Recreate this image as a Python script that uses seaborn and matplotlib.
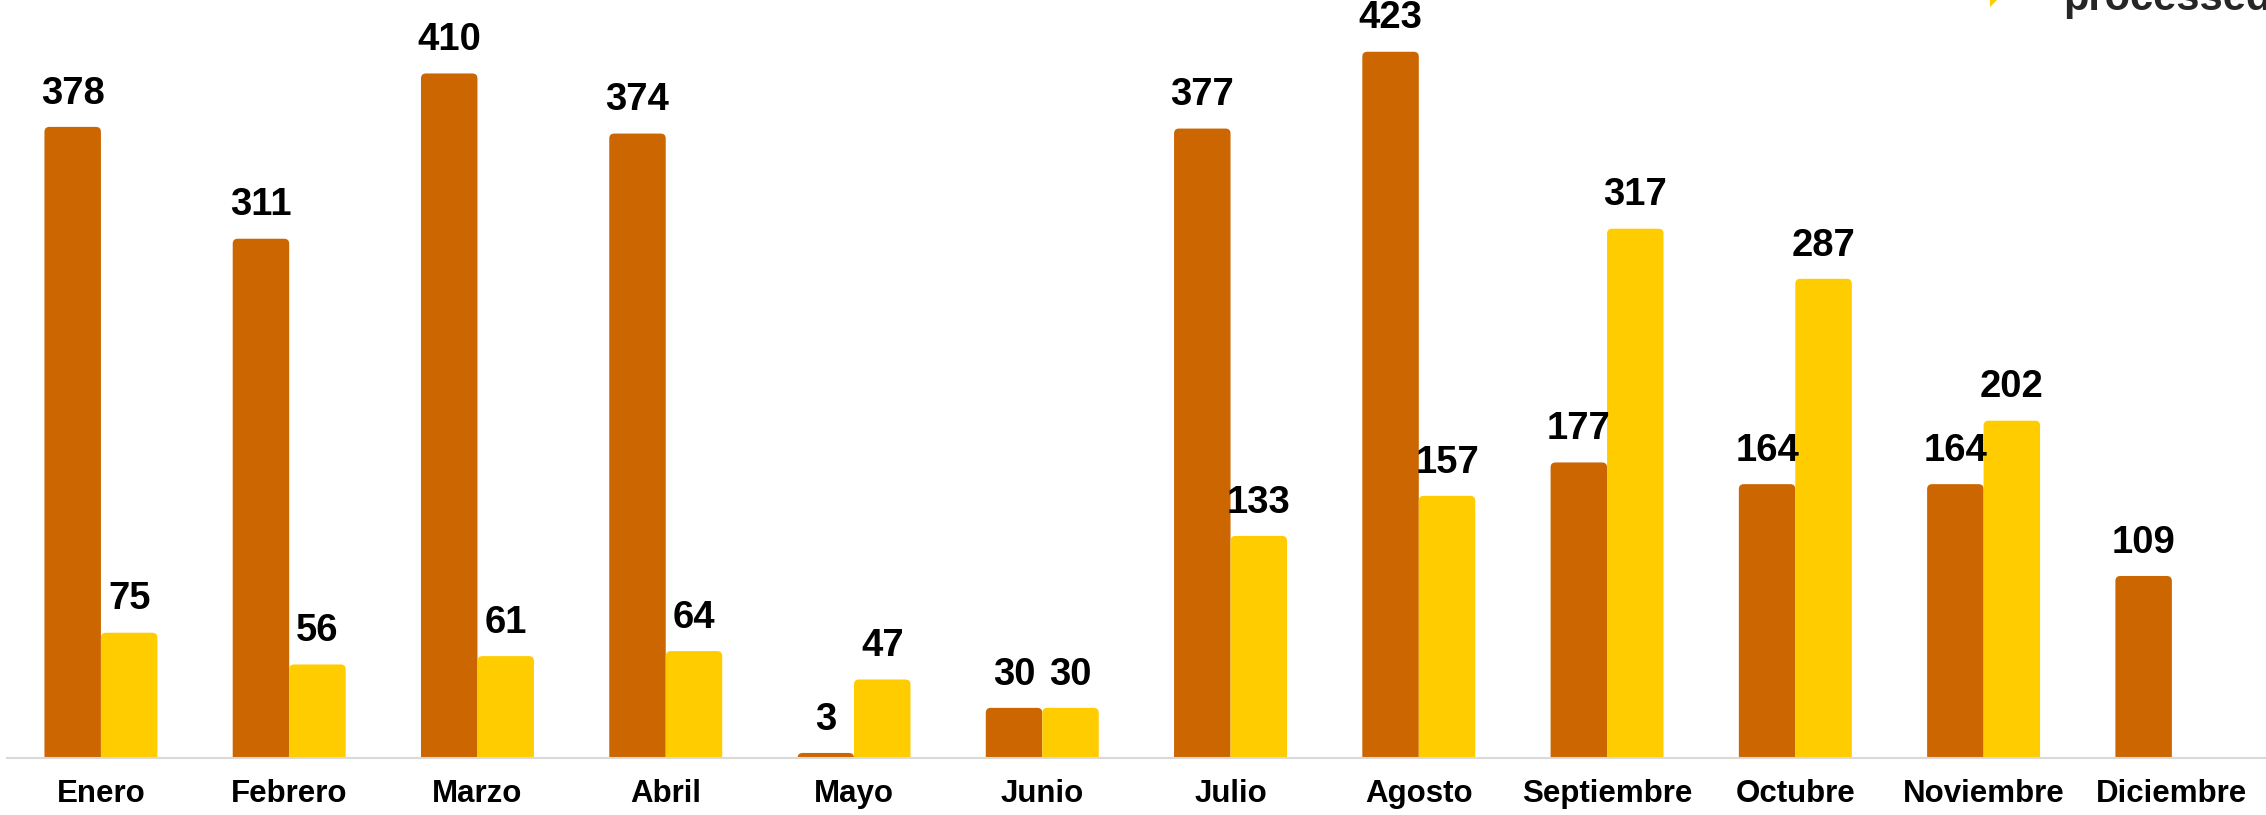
import numpy as np
import pandas as pd
import matplotlib
matplotlib.use("Agg")
import matplotlib.pyplot as plt
import seaborn as sns
from matplotlib.patches import FancyBboxPatch, Polygon

sns.set_theme(style="white")
plt.rcParams["font.family"] = ["Liberation Sans", "DejaVu Sans"]

# data
months = ["Enero", "Febrero", "Marzo", "Abril", "Mayo", "Junio", "Julio",
          "Agosto", "Septiembre", "Octubre", "Noviembre", "Diciembre"]
serie_a = [378, 311, 410, 374, 3, 30, 377, 423, 177, 164, 164, 109]
serie_b = [75, 56, 61, 64, 47, 30, 133, 157, 317, 287, 202, np.nan]
series = ["A", "B"]
colors = ["#CC6600", "#FFCC00"]

df = pd.DataFrame({
    "mes": months * 2,
    "serie": [series[0]] * 12 + [series[1]] * 12,
    "valor": serie_a + serie_b,
})

fig = plt.figure(figsize=(22.66, 8.15), dpi=100)
ax = fig.add_axes([0.003, 0.07, 0.997, 0.93])

sns.barplot(data=df, x="mes", y="valor", hue="serie", order=months,
            hue_order=series, palette=colors, width=0.6, dodge=True,
            saturation=1, legend=False, ax=ax)

ax.set_xlim(-0.5, 11.5)
ax.set_ylim(0, 454)

for c in ax.containers:
    ax.bar_label(c, fmt="%.0f", padding=11, fontsize=27.5, fontweight="bold",
                 color="black")

# swap plain bars for bars with rounded tops
xpp = 12 / (2266 * 0.997)
ypp = 454 / (815 * 0.93)
r = 5 * xpp
for p in list(ax.patches):
    x, w, h = p.get_x(), p.get_width(), p.get_height()
    if np.isnan(h):
        p.remove()
        continue
    fc = p.get_facecolor()
    p.remove()
    box = FancyBboxPatch((x, -8 * ypp), w, h + 8 * ypp,
                         boxstyle=f"round,pad=0,rounding_size={r}",
                         mutation_aspect=ypp / xpp, facecolor=fc,
                         edgecolor="none", zorder=2)
    ax.add_patch(box)

ax.set_xlabel("")
ax.set_ylabel("")
ax.set_yticks([])
ax.tick_params(axis="x", length=0, pad=15, labelsize=22.5)
for t in ax.get_xticklabels():
    t.set_fontweight("bold")
    t.set_color("black")
for s in ["top", "left", "right"]:
    ax.spines[s].set_visible(False)
ax.spines["bottom"].set_color("#D9D9D9")
ax.spines["bottom"].set_linewidth(1.5)
ax.spines["bottom"].set_zorder(3)

# cropped logo in the top right corner
fig.text(2063 / 2266, 1 - 10 / 815, "processed", fontsize=30,
         fontweight="bold", color="#262626", va="baseline", ha="left")
fig.patches.append(Polygon([[1990 / 2266, 1 - 7 / 815], [1997 / 2266, 1.0],
                            [1990 / 2266, 1.0]], closed=True,
                           transform=fig.transFigure, facecolor="#FFCC00",
                           edgecolor="none"))

fig.savefig("out.png", dpi=100)
